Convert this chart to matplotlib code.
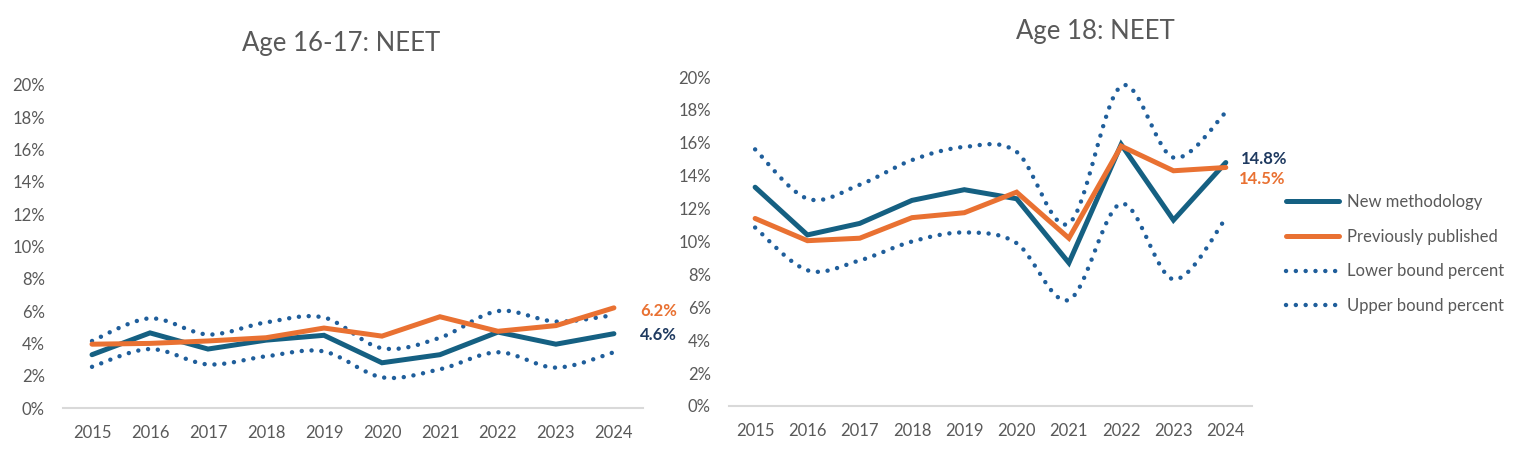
import matplotlib
matplotlib.use("Agg")
import matplotlib.pyplot as plt
from matplotlib.path import Path
from matplotlib.patches import PathPatch
from matplotlib.lines import Line2D

plt.rcParams['font.family'] = ['Lato', 'DejaVu Sans']

years = [2015, 2016, 2017, 2018, 2019, 2020, 2021, 2022, 2023, 2024]
year_labels = [str(y) for y in years]

# Age 16-17 (percent)
a16_new = [3.3, 4.65, 3.65, 4.2, 4.5, 2.8, 3.3, 4.7, 3.95, 4.6]
a16_prev = [3.95, 4.0, 4.15, 4.35, 4.95, 4.45, 5.65, 4.75, 5.1, 6.2]
a16_upper = [4.15, 5.55, 4.55, 5.3, 5.6, 3.7, 4.35, 6.0, 5.35, 5.75]
a16_lower = [2.55, 3.65, 2.7, 3.2, 3.5, 1.9, 2.4, 3.45, 2.5, 3.45]

# Age 18 (percent)
a18_new = [13.3, 10.4, 11.1, 12.5, 13.15, 12.6, 8.7, 15.9, 11.3, 14.8]
a18_prev = [11.4, 10.05, 10.2, 11.45, 11.75, 13.0, 10.2, 15.8, 14.3, 14.5]
a18_upper = [15.6, 12.6, 13.45, 14.95, 15.75, 15.45, 11.1, 19.45, 15.1, 17.85]
a18_lower = [10.85, 8.25, 8.85, 10.0, 10.55, 9.9, 6.45, 12.3, 7.7, 11.4]

yticks = [0, 2, 4, 6, 8, 10, 12, 14, 16, 18, 20]
ytick_labels = [f"{t}%" for t in yticks]

C_NEW = "#156082"
C_PREV = "#E97132"
C_DOT = "#1F5E9B"
C_NAVY = "#1F3A60"
C_TEXT = "#595959"
C_AXIS = "#D9D9D9"

LW_SOLID = 3.6
LW_DOT = 3.2
DOT_STYLE = (0, (0.01, 2.2))


def smooth_path(xs, ys):
    verts = [(xs[0], ys[0])]
    codes = [Path.MOVETO]
    n = len(xs)
    for i in range(n - 1):
        p0 = (xs[max(i - 1, 0)], ys[max(i - 1, 0)])
        p1 = (xs[i], ys[i])
        p2 = (xs[i + 1], ys[i + 1])
        p3 = (xs[min(i + 2, n - 1)], ys[min(i + 2, n - 1)])
        c1 = (p1[0] + (p2[0] - p0[0]) / 6.0, p1[1] + (p2[1] - p0[1]) / 6.0)
        c2 = (p2[0] - (p3[0] - p1[0]) / 6.0, p2[1] - (p3[1] - p1[1]) / 6.0)
        verts += [c1, c2, p2]
        codes += [Path.CURVE4] * 3
    return Path(verts, codes)


def draw(ax, new, prev, lower, upper):
    x = list(range(len(years)))
    for s in (lower, upper):
        ax.add_patch(PathPatch(smooth_path(x, s), fill=False, edgecolor=C_DOT,
                               linewidth=LW_DOT, linestyle=DOT_STYLE,
                               capstyle='round', clip_on=False, zorder=2))
    ax.plot(x, new, color=C_NEW, lw=LW_SOLID, solid_capstyle='round',
            solid_joinstyle='miter', zorder=3, clip_on=False)
    ax.plot(x, prev, color=C_PREV, lw=LW_SOLID, solid_capstyle='round',
            solid_joinstyle='miter', zorder=4, clip_on=False)
    ax.set_xlim(-0.5, len(years) - 0.5)
    ax.set_ylim(0, 20)
    ax.set_xticks(x)
    ax.set_xticklabels(year_labels)
    ax.set_yticks(yticks)
    ax.set_yticklabels(ytick_labels)
    ax.tick_params(axis='both', length=0, labelsize=12, colors=C_TEXT)
    ax.tick_params(axis='x', pad=12)
    ax.tick_params(axis='y', pad=13)
    for sp in ('top', 'right', 'left'):
        ax.spines[sp].set_visible(False)
    ax.spines['bottom'].set_color(C_AXIS)
    ax.spines['bottom'].set_linewidth(1.5)
    ax.set_facecolor('none')
    return x


fig = plt.figure(figsize=(15.26, 4.57), dpi=100)
ax1 = fig.add_axes([0.0413, 0.1072, 0.380, 0.707])
ax2 = fig.add_axes([0.4777, 0.1116, 0.3427, 0.7199])

x = draw(ax1, a16_new, a16_prev, a16_lower, a16_upper)
draw(ax2, a18_new, a18_prev, a18_lower, a18_upper)

fig.text(341 / 1526, 1 - 43 / 457, "Age 16-17: NEET", ha='center', va='center',
         fontsize=18.5, color=C_TEXT)
fig.text(1095 / 1526, 1 - 32 / 457, "Age 18: NEET", ha='center', va='center',
         fontsize=18.5, color=C_TEXT)

# end labels
lab_kw = dict(textcoords='offset pixels', ha='left', va='center', fontsize=12,
              fontweight='bold')
ax1.annotate(f"{a16_prev[-1]:.1f}%", (x[-1], a16_prev[-1]), xytext=(26, -3),
             color=C_PREV, **lab_kw)
ax1.annotate(f"{a16_new[-1]:.1f}%", (x[-1], a16_new[-1]), xytext=(26, -1),
             color=C_NAVY, **lab_kw)
ax2.annotate(f"{a18_new[-1]:.1f}%", (x[-1], a18_new[-1]), xytext=(15, 4),
             color=C_NAVY, **lab_kw)
ax2.annotate(f"{a18_prev[-1]:.1f}%", (x[-1], a18_prev[-1]), xytext=(13, -12),
             color=C_PREV, **lab_kw)

handles = [
    Line2D([], [], color=C_NEW, lw=LW_SOLID, solid_capstyle='round'),
    Line2D([], [], color=C_PREV, lw=LW_SOLID, solid_capstyle='round'),
    Line2D([], [], color=C_DOT, lw=LW_DOT, linestyle=DOT_STYLE, dash_capstyle='round'),
    Line2D([], [], color=C_DOT, lw=LW_DOT, linestyle=DOT_STYLE, dash_capstyle='round'),
]
labels = ["New methodology", "Previously published",
          "Lower bound percent", "Upper bound percent"]
leg = fig.legend(handles, labels, loc='upper left',
                 bbox_to_anchor=(1286 / 1526, 1 - 194 / 457),
                 frameon=False, fontsize=12, labelcolor=C_TEXT,
                 handlelength=3.2, handletextpad=0.45, labelspacing=1.12,
                 borderaxespad=0, borderpad=0)

fig.savefig("out.png", dpi=100)
